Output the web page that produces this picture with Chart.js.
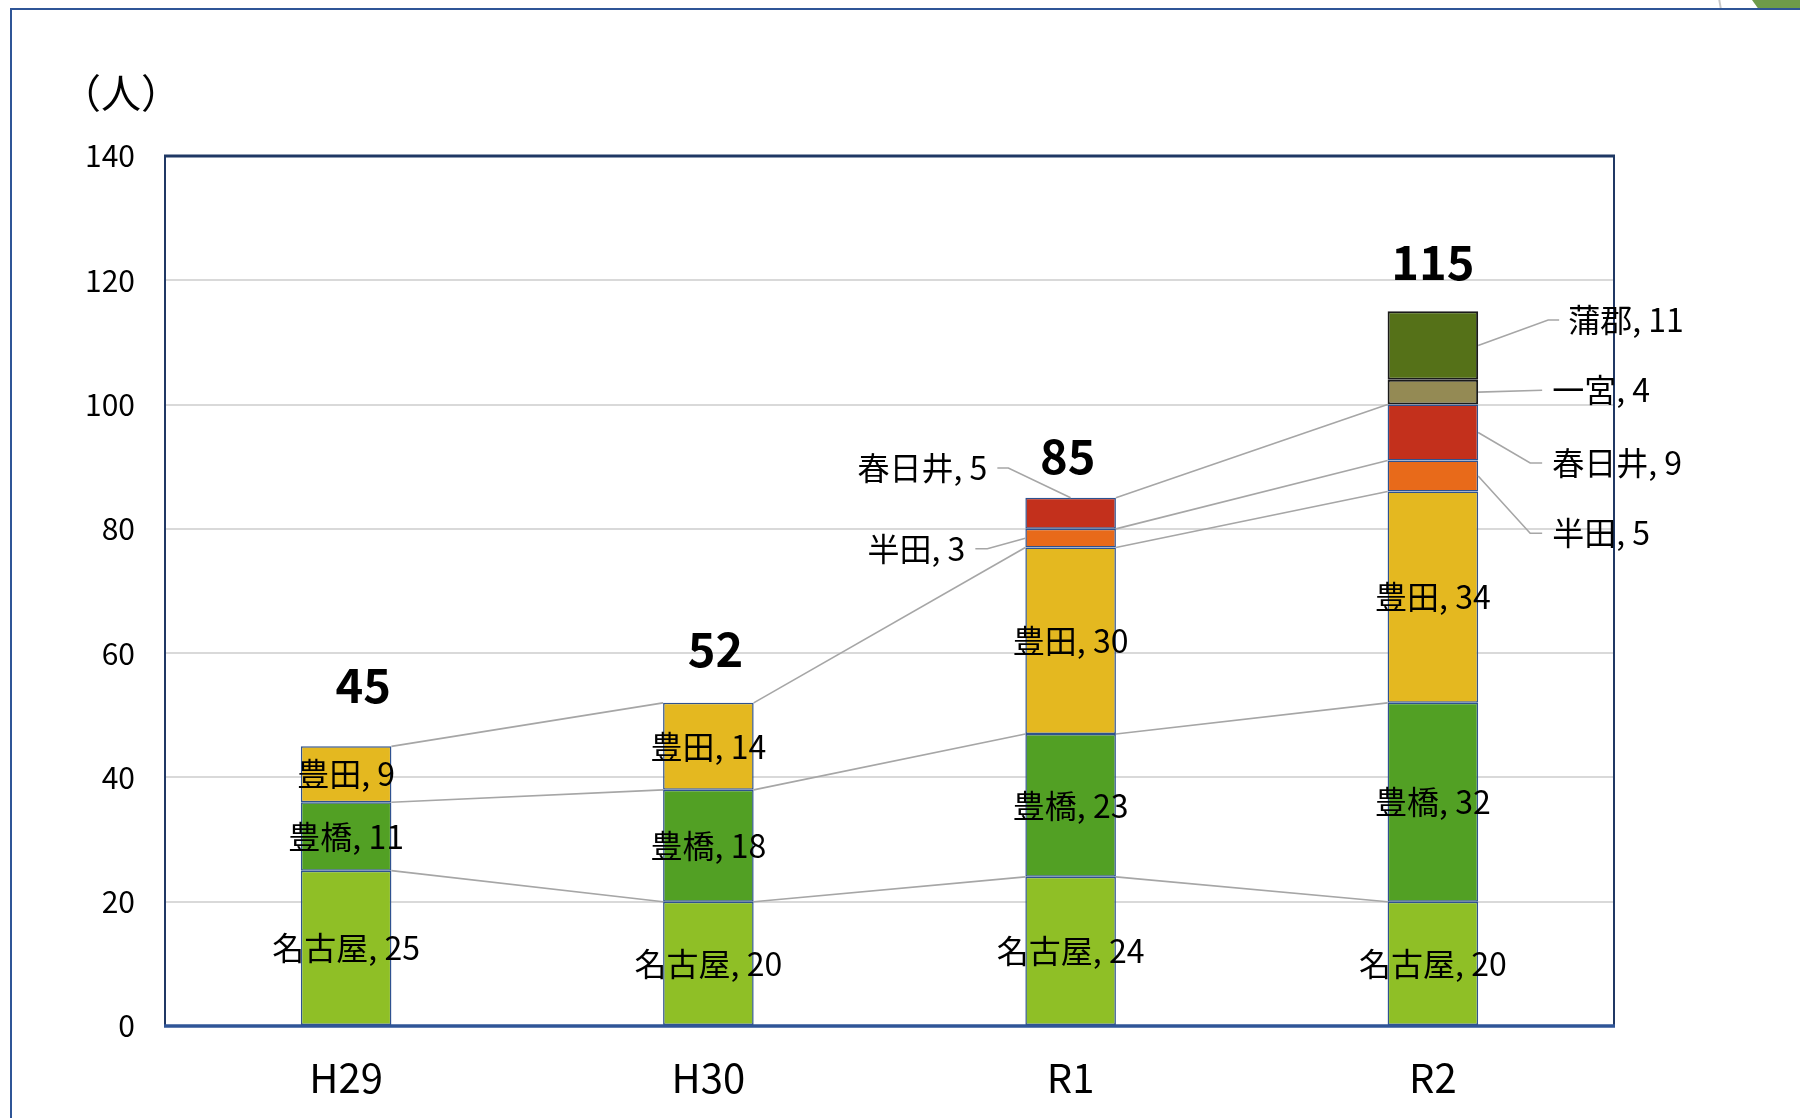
<!DOCTYPE html>
<html>
<head>
<meta charset="utf-8">
<script src="https://cdn.jsdelivr.net/npm/chart.js@4.4.1/dist/chart.umd.min.js"></script>
<style>
  html, body { margin: 0; padding: 0; background: #ffffff; }
  #wrap { position: relative; width: 1800px; height: 1118px; overflow: hidden; background: #fff; }
  #c { position: absolute; left: 0; top: 0; }
  .frameTop { position: absolute; left: 10px; top: 8px; width: 1790px; height: 2px; background: #2F5597; }
  .frameLeft { position: absolute; left: 10px; top: 8px; width: 2px; height: 1110px; background: #2F5597; }
  .deco { position: absolute; left: 1752px; top: 0; width: 48px; height: 8px; background: #6E9B4A;
          clip-path: polygon(0 0, 100% 0, 100% 100%, 12% 100%); }
  .deco2 { position: absolute; left: 1719px; top: 0; width: 2px; height: 8px; background: #C8C8C8; transform: skewX(10deg); }
</style>
</head>
<body>
<div id="wrap">
  <canvas id="c" width="1800" height="1118"></canvas>
  <div class="frameTop"></div>
  <div class="frameLeft"></div>
  <div class="deco2"></div>
  <div class="deco"></div>
</div>
<script>
// ---- data ----
const categories = ['H29', 'H30', 'R1', 'R2'];
const seriesNames = ['名古屋', '豊橋', '豊田', '半田', '春日井', '一宮', '蒲郡'];
const nagoya     = [25, 20, 24, 20];
const toyohashi  = [11, 18, 23, 32];
const toyota     = [9, 14, 30, 34];
const handa      = [null, null, 3, 5];
const kasugai    = [null, null, 5, 9];
const ichinomiya = [null, null, null, 4];
const gamagori   = [null, null, null, 11];
const totals     = [45, 52, 85, 115];
const yTickValues = [0, 20, 40, 60, 80, 100, 120, 140];
const unitLabel = '（人）';

// ---- styles ----
const fillColors   = ['#8FBF26', '#52A024', '#E4B820', '#E86A1A', '#C3301C', '#948A54', '#557118'];
const borderColors = ['#2F528F', '#2F528F', '#2F528F', '#2F528F', '#2F528F', '#1a1a1a', '#1a1a1a'];
const seriesData = [nagoya, toyohashi, toyota, handa, kasugai, ichinomiya, gamagori];
const insideSeries = [0, 1, 2];
// callout layout: dataset index, category index, side, label y (axis units), text gap / elbow (px from bar edge)
const callouts = [
  { ds: 4, i: 2, side: 'left',  labelY: 89.8, gap: 38, elbow: [28, 17], anchor: 'top' },
  { ds: 3, i: 2, side: 'left',  labelY: 76.8, gap: 60, elbow: [50, 38], anchor: 'edge' },
  { ds: 6, i: 3, side: 'right', labelY: 113.6, gap: 90, elbow: [81, 70], anchor: 'edge' },
  { ds: 5, i: 3, side: 'right', labelY: 102.3, gap: 74, elbow: [64, 64], anchor: 'edge' },
  { ds: 4, i: 3, side: 'right', labelY: 90.6, gap: 74, elbow: [64, 52], anchor: 'edge' },
  { ds: 3, i: 3, side: 'right', labelY: 79.3, gap: 74, elbow: [64, 52], anchor: 'edge' }
];
const totalOffsets = [61, 54, 42, 49];
const totalShiftX = [17, 7, -3, 0];

const FONT = "'Noto Sans CJK JP', 'Noto Sans', sans-serif";
Chart.defaults.font.family = FONT;
Chart.defaults.color = '#000';

const datasets = seriesNames.map((n, k) => ({
  label: n,
  data: seriesData[k],
  backgroundColor: fillColors[k],
  borderColor: borderColors[k],
  borderWidth: k >= 5 ? 2 : 1.5,
  borderSkipped: false,
  barPercentage: 0.25,
  categoryPercentage: 1.0
}));

function barGeom(chart, ds, i) {
  const el = chart.getDatasetMeta(ds).data[i];
  const p = el.getProps(['x', 'y', 'base', 'width'], true);
  return { x: p.x, top: Math.min(p.y, p.base), bottom: Math.max(p.y, p.base), left: p.x - p.width / 2, right: p.x + p.width / 2 };
}

const overlay = {
  id: 'overlay',
  beforeDatasetsDraw(chart) {
    const ctx = chart.ctx;
    ctx.save();
    ctx.strokeStyle = '#A6A6A6';
    ctx.lineWidth = 1.6;
    seriesData.forEach((arr, k) => {
      for (let i = 0; i < arr.length - 1; i++) {
        if (arr[i] == null || arr[i + 1] == null) continue;
        const a = barGeom(chart, k, i), b = barGeom(chart, k, i + 1);
        ctx.beginPath();
        ctx.moveTo(a.right, a.top);
        ctx.lineTo(b.left, b.top);
        ctx.stroke();
      }
    });
    ctx.restore();
  },
  afterDatasetsDraw(chart) {
    const ctx = chart.ctx;
    const ca = chart.chartArea;
    const ys = chart.scales.y;
    ctx.save();
    ctx.strokeStyle = '#1F3864';
    ctx.lineWidth = 3;
    ctx.beginPath(); ctx.moveTo(ca.left - 1, ca.top); ctx.lineTo(ca.right + 1, ca.top); ctx.stroke();
    ctx.lineWidth = 2;
    ctx.strokeStyle = '#203864';
    ctx.beginPath(); ctx.moveTo(ca.left, ca.top); ctx.lineTo(ca.left, ca.bottom); ctx.stroke();
    ctx.beginPath(); ctx.moveTo(ca.right, ca.top); ctx.lineTo(ca.right, ca.bottom); ctx.stroke();
    ctx.strokeStyle = '#2F5597';
    ctx.lineWidth = 3.5;
    ctx.beginPath(); ctx.moveTo(ca.left - 1, ca.bottom); ctx.lineTo(ca.right + 1, ca.bottom); ctx.stroke();
    ctx.restore();

    ctx.save();
    ctx.fillStyle = '#000';
    ctx.font = `32px ${FONT}`;
    ctx.textAlign = 'center';
    ctx.textBaseline = 'middle';
    insideSeries.forEach(k => {
      seriesData[k].forEach((v, i) => {
        if (v == null) return;
        const g = barGeom(chart, k, i);
        ctx.fillText(`${seriesNames[k]}, ${v}`, g.x, (g.top + g.bottom) / 2);
      });
    });
    callouts.forEach(c => {
      const v = seriesData[c.ds][c.i];
      const g = barGeom(chart, c.ds, c.i);
      const ly = ys.getPixelForValue(c.labelY);
      const text = `${seriesNames[c.ds]}, ${v}`;
      ctx.strokeStyle = '#A6A6A6';
      ctx.lineWidth = 1.6;
      ctx.beginPath();
      if (c.side === 'left') {
        ctx.moveTo(g.left - c.elbow[0], ly);
        ctx.lineTo(g.left - c.elbow[1], ly);
        if (c.anchor === 'top') ctx.lineTo(g.x, g.top);
        else ctx.lineTo(g.left, (g.top + g.bottom) / 2);
        ctx.stroke();
        ctx.textAlign = 'right';
        ctx.fillText(text, g.left - c.gap, ly);
      } else {
        ctx.moveTo(g.right + c.elbow[0], ly);
        ctx.lineTo(g.right + c.elbow[1], ly);
        ctx.lineTo(g.right, (g.top + g.bottom) / 2);
        ctx.stroke();
        ctx.textAlign = 'left';
        ctx.fillText(text, g.right + c.gap, ly);
      }
    });
    ctx.font = `bold 47px ${FONT}`;
    ctx.textAlign = 'center';
    totals.forEach((t, i) => {
      const x = chart.scales.x.getPixelForValue(i) + totalShiftX[i];
      const y = ys.getPixelForValue(t) - totalOffsets[i];
      ctx.fillText(String(t), x, y);
    });
    ctx.font = `40px ${FONT}`;
    ctx.fillText(unitLabel, ca.left - 44, ca.top - 63);
    ctx.restore();
  }
};

new Chart(document.getElementById('c'), {
  type: 'bar',
  data: { labels: categories, datasets },
  options: {
    responsive: false,
    animation: false,
    devicePixelRatio: 1,
    layout: { padding: { top: 156, right: 186, bottom: 0, left: 0 } },
    plugins: { legend: { display: false }, tooltip: { enabled: false } },
    scales: {
      x: {
        stacked: true,
        grid: { display: false, drawTicks: false },
        border: { display: false },
        ticks: { font: { size: 40 }, color: '#000', padding: 28 },
        afterFit(s) { s.height = 92; }
      },
      y: {
        stacked: true,
        min: 0, max: 140,
        afterBuildTicks(s) { s.ticks = yTickValues.map(v => ({ value: v })); },
        grid: { color: '#D9D9D9', lineWidth: 2, drawTicks: false },
        border: { display: false },
        ticks: { font: { size: 30 }, color: '#000', padding: 30 },
        afterFit(s) { s.width = 165; }
      }
    }
  },
  plugins: [overlay]
});
</script>
</body>
</html>
